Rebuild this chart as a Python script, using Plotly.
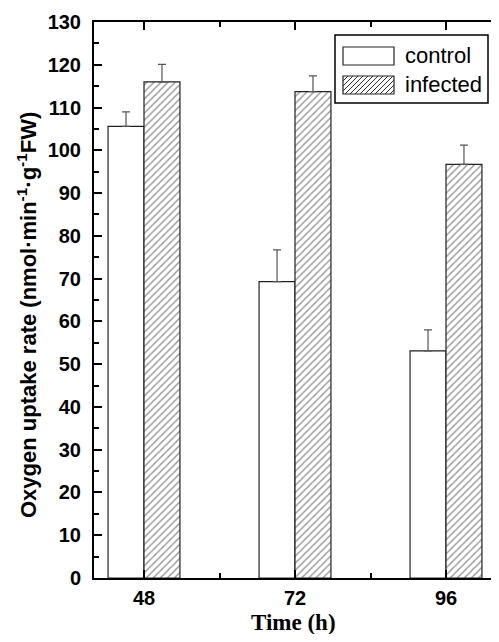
import plotly.graph_objects as go

# ---- data ----
times = ["48", "72", "96"]
control = [105.6, 69.3, 53.1]
control_err = [3.4, 7.4, 4.9]
infected = [116.0, 113.7, 96.7]
infected_err = [4.1, 3.7, 4.5]
series_names = ["control", "infected"]
y_ticks = list(range(0, 131, 10))

# ---- layout geometry ----
# The page body adds an 8px margin; keep the figure inside the window.
OFF = 8
PAGE_L, PAGE_T, PAGE_B, PAGE_R = 94, 22, 578, 499
W = PAGE_R - OFF
H = 642 - 2 * OFF
L, T = PAGE_L - OFF, PAGE_T - OFF
B = H - (PAGE_B - OFF)
R = 0
PW, PH = W - L - R, H - T - B
CAT0, CAT_STEP = 144, 151   # page px of first category and spacing
BAR_W = 0.238
xpos = list(range(len(times)))

def px2paper(x, y):
    """page pixel -> paper coords"""
    return (x - PAGE_L) / PW, (PAGE_B - y) / PH

fig = go.Figure()
fig.add_trace(go.Bar(
    x=xpos, y=control, name=series_names[0], width=BAR_W, offset=-BAR_W,
    marker=dict(color="white", line=dict(color="#222", width=1.2)),
    error_y=dict(type="data", array=control_err, arrayminus=[0] * len(times),
                 symmetric=False, color="#555", thickness=1.2, width=4),
    showlegend=False,
))
fig.add_trace(go.Bar(
    x=xpos, y=infected, name=series_names[1], width=BAR_W, offset=0,
    marker=dict(color="white", line=dict(color="#222", width=1.2),
                pattern=dict(shape="/", fgcolor="#2a2a2a", bgcolor="white",
                             size=5, solidity=0.28)),
    error_y=dict(type="data", array=infected_err, arrayminus=[0] * len(times),
                 symmetric=False, color="#555", thickness=1.2, width=4),
    showlegend=False,
))

x_left = (PAGE_L - CAT0) / CAT_STEP
x_right = (PAGE_R - CAT0) / CAT_STEP

tickfont = dict(family="Liberation Sans, Arial", size=20, color="black", weight="bold")
tick_style = dict(ticks="inside", ticklen=8, tickwidth=1.8, tickcolor="black")
minor_y = dict(dtick=5, ticks="inside", ticklen=5, tickwidth=1.8, tickcolor="black")

fig.update_layout(
    width=W, height=H,
    margin=dict(l=L, r=R, t=T, b=B, pad=0),
    paper_bgcolor="white", plot_bgcolor="white",
    barmode="overlay",
    xaxis=dict(
        range=[x_left, x_right], tickvals=xpos, ticktext=times,
        showline=True, linecolor="black", linewidth=2, mirror="allticks",
        minor=dict(tickvals=[0.5, 1.5], ticks="inside", ticklen=5,
                   tickwidth=1.8, tickcolor="black"),
        showgrid=False, zeroline=False, tickfont=tickfont,
        ticklabelstandoff=1, **tick_style,
    ),
    yaxis=dict(
        range=[0, 130], tickvals=y_ticks,
        showline=True, linecolor="black", linewidth=2, mirror=False,
        minor=minor_y,
        showgrid=False, zeroline=False, tickfont=tickfont,
        ticklabelstandoff=7, **tick_style,
    ),
    yaxis2=dict(
        range=[0, 130], tickvals=y_ticks, overlaying="y", side="right",
        anchor="x", showline=False, showticklabels=False,
        minor=minor_y, showgrid=False, zeroline=False, **tick_style,
    ),
)

# axis titles
ax, ay = px2paper(27, 315)
fig.add_annotation(
    x=ax, y=ay, xref="paper", yref="paper", textangle=-90,
    text="Oxygen uptake rate (nmol·min<sup>-1</sup>·g<sup>-1</sup>FW)",
    showarrow=False, xanchor="center", yanchor="middle",
    font=dict(family="Liberation Sans, Arial", size=22, color="black", weight="bold"),
)
tx, ty = px2paper(293, 622)
fig.add_annotation(
    x=tx, y=ty, xref="paper", yref="paper", text="Time (h)",
    showarrow=False, xanchor="center", yanchor="middle",
    font=dict(family="Liberation Serif, Times New Roman", size=23, color="black", weight="bold"),
)

# ---- custom legend ----
bx0, by0 = px2paper(335, 35)
bx1, by1 = px2paper(488, 103)
fig.add_shape(type="rect", xref="paper", yref="paper", x0=bx0, x1=bx1,
              y0=by1, y1=by0, line=dict(color="black", width=1.5),
              fillcolor="white", layer="above")

sw_x0, sw_x1 = 343, 394
rows = [(47, 65), (76, 94)]
for i, (name, (ry0, ry1)) in enumerate(zip(series_names, rows)):
    a0, a1 = px2paper(sw_x0, ry0)
    b0, b1 = px2paper(sw_x1, ry1)
    fig.add_shape(type="rect", xref="paper", yref="paper", x0=a0, x1=b0,
                  y0=b1, y1=a1, line=dict(color="#222", width=1.2),
                  fillcolor="white", layer="above")
    if i == 1:
        w = sw_x1 - sw_x0
        h = ry1 - ry0
        s = 5.0
        segs = []
        c = -h
        while c < w:
            t0 = max(0.0, -c)
            t1 = min(float(h), w - c)
            if t1 > t0:
                p0 = px2paper(sw_x0 + t0 + c, ry1 - t0)
                p1 = px2paper(sw_x0 + t1 + c, ry1 - t1)
                segs.append(f"M{p0[0]},{p0[1]}L{p1[0]},{p1[1]}")
            c += s
        fig.add_shape(type="path", xref="paper", yref="paper", path="".join(segs),
                      line=dict(color="#333", width=1), layer="above")
    lx, ly = px2paper(403, (ry0 + ry1) / 2)
    fig.add_annotation(x=lx, y=ly, xref="paper", yref="paper", text=name,
                       showarrow=False, xanchor="left", yanchor="middle",
                       font=dict(family="Liberation Sans, Arial", size=22, color="black"))

fig.write_html("out.html")
